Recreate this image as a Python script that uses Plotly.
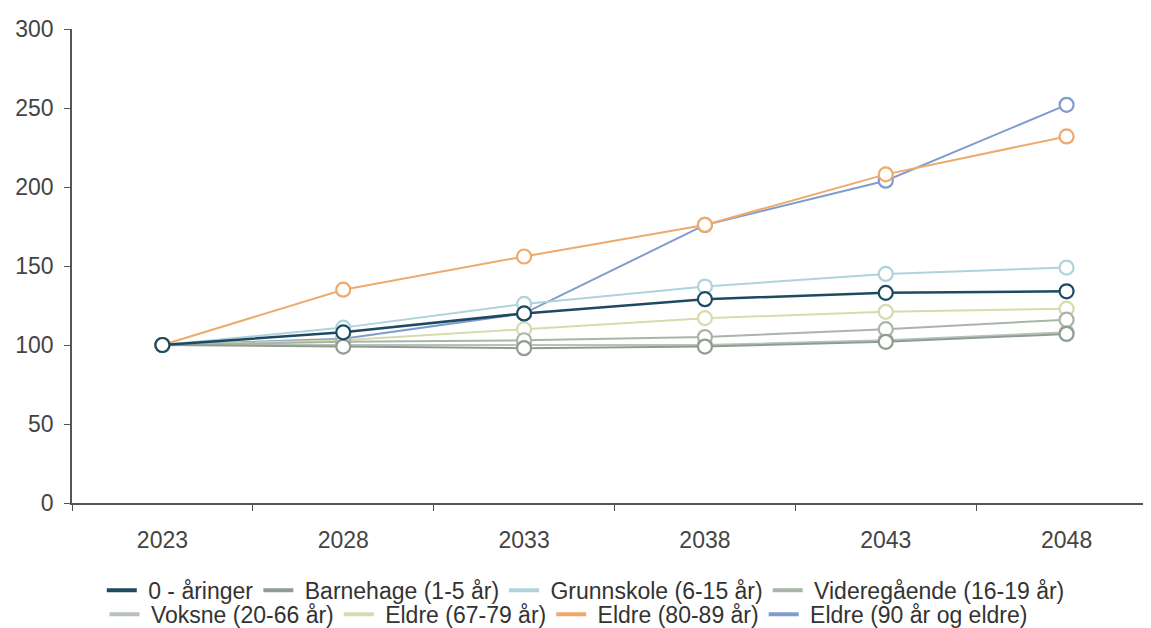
import plotly.graph_objects as go

years = ["2023", "2028", "2033", "2038", "2043", "2048"]

series_names = [
    "0 - åringer",
    "Barnehage (1-5 år)",
    "Grunnskole (6-15 år)",
    "Videregående (16-19 år)",
    "Voksne (20-66 år)",
    "Eldre (67-79 år)",
    "Eldre (80-89 år)",
    "Eldre (90 år og eldre)",
]

aaringer0 = [100, 108, 120, 129, 133, 134]
barnehage = [100, 99, 98, 99, 102, 107]
grunnskole = [100, 111, 126, 137, 145, 149]
videregaende = [100, 102, 103, 105, 110, 116]
voksne = [100, 100, 100, 100, 103, 108]
eldre_67_79 = [100, 103, 110, 117, 121, 123]
eldre_80_89 = [100, 135, 156, 176, 208, 232]
eldre_90 = [100, 104, 120, 176, 204, 252]

values = [aaringer0, barnehage, grunnskole, videregaende, voksne,
          eldre_67_79, eldre_80_89, eldre_90]

colors = ["#1d4a60", "#8e9d92", "#afd3da", "#a9b5a8", "#b9c2b8",
          "#d6dbae", "#eeaa6c", "#7f9ccf"]
widths = [2.5, 2, 2, 2, 2, 2, 2, 2]

FONT = "Liberation Sans, Arial, sans-serif"

fig = go.Figure()
order = list(range(len(series_names)))
for i in reversed(order):
    fig.add_trace(go.Scatter(
        x=years, y=values[i], mode="lines+markers", name=series_names[i],
        legendgroup=series_names[i], showlegend=False,
        line=dict(color=colors[i], width=widths[i]),
        marker=dict(size=14, color="white", line=dict(color=colors[i], width=2.2)),
        hoverinfo="x+y+name",
    ))
for i in order:
    fig.add_trace(go.Scatter(
        x=[None], y=[None], mode="lines", name="\u00a0" + series_names[i],
        legendgroup=series_names[i], showlegend=True,
        legend="legend" if i < 4 else "legend2",
        line=dict(color=colors[i], width=4),
    ))

axis_font = dict(family=FONT, size=23, color="#444")
leg_font = dict(family=FONT, size=23, color="#333")

fig.update_layout(
    width=1151, height=620,
    margin=dict(l=64, r=2, t=21, b=125),
    paper_bgcolor="white", plot_bgcolor="white",
    font=axis_font,
    showlegend=True,
    legend=dict(orientation="h", xref="container", x=0.502, xanchor="center",
                yref="container", y=0.061, yanchor="middle",
                font=leg_font, tracegroupgap=0, traceorder="normal",
                itemwidth=30, bgcolor="rgba(0,0,0,0)"),
    legend2=dict(orientation="h", xref="container", x=0.487, xanchor="center",
                 yref="container", y=0.022, yanchor="middle",
                 font=leg_font, tracegroupgap=0, traceorder="normal",
                 itemwidth=30, bgcolor="rgba(0,0,0,0)"),
)
fig.update_xaxes(
    type="category", categoryorder="array", categoryarray=years,
    range=[-0.5, 5.5], tickson="boundaries",
    showline=True, linecolor="#555", linewidth=1.5,
    ticks="outside", ticklen=6, tickcolor="#555",
    ticklabelstandoff=16,
    showgrid=False, zeroline=False, tickfont=axis_font,
)
fig.update_yaxes(
    range=[0, 300], dtick=50, tick0=0,
    showline=True, linecolor="#555", linewidth=1.5,
    ticks="outside", ticklen=6, tickcolor="#555",
    ticklabelstandoff=6,
    showgrid=False, zeroline=False, tickfont=axis_font,
)

fig.write_html("out.html")
